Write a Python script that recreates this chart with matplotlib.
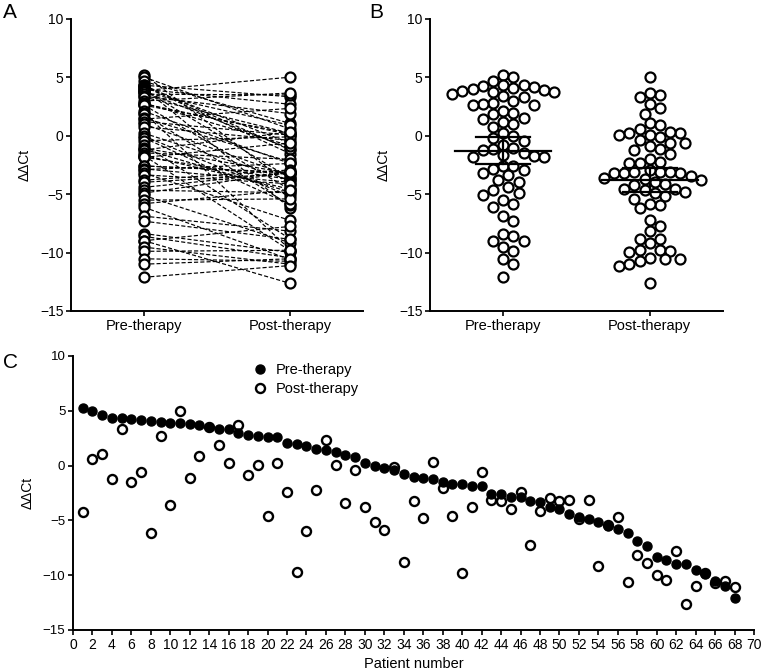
import numpy as np
import matplotlib
matplotlib.use("Agg")
import matplotlib.pyplot as plt

plt.rcParams['font.family'] = ['Liberation Sans', 'DejaVu Sans']

# ---- data (ΔΔCt per patient) ----
patients = list(range(1, 69))
pre = [5.24, 5.02, 4.66, 4.33, 4.33, 4.24, 4.17, 4.05, 3.99, 3.93,
       3.87, 3.78, 3.72, 3.56, 3.38, 3.32, 2.98, 2.80, 2.74, 2.62,
       2.62, 2.10, 1.97, 1.83, 1.53, 1.43, 1.22, 1.00, 0.77, 0.22,
       -0.03, -0.18, -0.42, -0.79, -1.06, -1.15, -1.21, -1.46, -1.67, -1.70,
       -1.83, -1.85, -2.58, -2.58, -2.83, -2.89, -3.20, -3.34, -3.80, -3.98,
       -4.41, -4.66, -4.90, -5.11, -5.51, -5.81, -6.12, -6.88, -7.31, -8.37,
       -8.61, -8.98, -8.98, -9.53, -9.89, -10.53, -10.99, -12.11]
post = [-4.20, 0.58, 1.06, -1.20, 3.34, -1.52, -0.62, -6.18, 2.70, -3.62,
        5.02, -1.10, 0.90, 3.50, 1.90, 0.22, 3.67, -0.85, 0.10, -4.59,
        0.22, -2.37, -9.74, -5.94, -2.22, 2.35, 0.06, -3.44, -0.39, -3.80,
        -5.17, -5.87, -0.09, -8.82, -3.22, -4.81, 0.31, -2.01, -4.57, -9.83,
        -3.74, -0.61, -3.13, -3.20, -3.98, -2.37, -7.24, -4.11, -2.92, -3.22,
        -3.13, -4.87, -3.13, -9.16, -5.40, -4.66, -10.59, -8.16, -8.86, -9.98,
        -10.44, -7.76, -12.63, -10.99, -9.80, -10.74, -10.53, -11.11]
groups = ["Pre-therapy", "Post-therapy"]
yticks = [-15, -10, -5, 0, 5, 10]
xticks_c = list(range(0, 71, 2))

W, H = 764, 672
fig = plt.figure(figsize=(W / 100, H / 100), dpi=100)


def ax_px(l, t, r, b):
    return fig.add_axes([l / W, 1 - b / H, (r - l) / W, (b - t) / H])


def style(ax, fs=10):
    for s in ("top", "right"):
        ax.spines[s].set_visible(False)
    for s in ("left", "bottom"):
        ax.spines[s].set_linewidth(1.4)
    ax.tick_params(direction="out", length=3.5, width=1.2, labelsize=fs, pad=2)
    ax.set_ylim(-15, 10)
    ax.set_yticks(yticks)
    ax.set_ylabel("ΔΔCt", fontsize=10, labelpad=6)


ms = 7.2
mew = 1.6

# ---- Panel A ----
axA = ax_px(71, 19, 363, 311)
style(axA)
for a, b in zip(pre, post):
    axA.plot([0, 1], [a, b], color="black", lw=0.85, ls=(0, (3.5, 1.8)), zorder=1)
axA.plot(np.zeros(len(pre)), pre, "o", mfc="white", mec="black", ms=ms, mew=mew,
         ls="none", zorder=2, clip_on=False)
axA.plot(np.ones(len(post)), post, "o", mfc="white", mec="black", ms=ms, mew=mew,
         ls="none", zorder=2, clip_on=False)
axA.set_xlim(-0.5, 1.5)
axA.set_xticks([0, 1])
axA.set_xticklabels(groups, fontsize=10.5)

# ---- Panel B ----
bl, bt, br, bb = 430, 19, 723, 311
axB = ax_px(bl, bt, br, bb)
style(axB)
axB.set_xlim(-0.5, 1.5)
px_per_x = (br - bl) / 2.0
px_per_y = (bb - bt) / 25.0
dsw = 10.2  # swarm collision diameter (px)


def swarm(vals):
    order = np.argsort(vals)[::-1]
    placed = []
    offs = np.zeros(len(vals))
    for i in order:
        y = vals[i] * px_per_y
        best = None
        for k in range(0, 80):
            for sgn in ([0] if k == 0 else [1, -1]):
                x = sgn * k * dsw / 2.0
                ok = all((x - px) ** 2 + (y - py) ** 2 >= dsw * dsw
                         for px, py in placed)
                if ok:
                    best = x
                    break
            if best is not None:
                break
        placed.append((best, y))
        offs[i] = best / px_per_x
    return offs


for gi, vals in enumerate([pre, post]):
    vals = np.array(vals)
    xo = swarm(vals)
    axB.plot(gi + xo, vals, "o", mfc="white", mec="black", ms=ms, mew=mew,
             ls="none", zorder=2, clip_on=False)
    m = vals.mean()
    ci = 1.996 * vals.std(ddof=1) / np.sqrt(len(vals))  # 95% CI
    mw = 48 / px_per_x
    sw = 27 / px_per_x
    axB.plot([gi - mw, gi + mw], [m, m], color="black", lw=1.6, zorder=3)
    axB.plot([gi - sw, gi + sw], [m + ci, m + ci], color="black", lw=1.6, zorder=3)
    axB.plot([gi - sw, gi + sw], [m - ci, m - ci], color="black", lw=1.6, zorder=3)
    axB.plot([gi, gi], [m - ci, m + ci], color="black", lw=1.6, zorder=3)
axB.set_xticks([0, 1])
axB.set_xticklabels(groups, fontsize=10.5)

# ---- Panel C ----
axC = ax_px(73, 356, 754, 630)
style(axC, fs=9.5)
axC.plot(patients, pre, "o", color="black", ms=6.5, ls="none", zorder=3,
         label="Pre-therapy", clip_on=False)
axC.plot(patients, post, "o", mfc="white", mec="black", ms=6.5, mew=1.7,
         ls="none", zorder=2, label="Post-therapy", clip_on=False)
axC.set_xlim(0, 70)
axC.set_xticks(xticks_c)
axC.tick_params(axis="x", labelsize=10)
axC.set_xlabel("Patient number", fontsize=10.5, labelpad=4)
axC.legend(loc="upper left", bbox_to_anchor=(0.255, 0.995), frameon=False,
           fontsize=10.5, handletextpad=0.6, labelspacing=0.35, borderaxespad=0,
           handlelength=1.0)

# ---- panel letters ----
for txt, x, y in [("A", 10, 13), ("B", 376, 12), ("C", 10, 362)]:
    fig.text(x / W, 1 - y / H, txt, fontsize=15, ha="center", va="center")

fig.savefig("out.png", dpi=100)
